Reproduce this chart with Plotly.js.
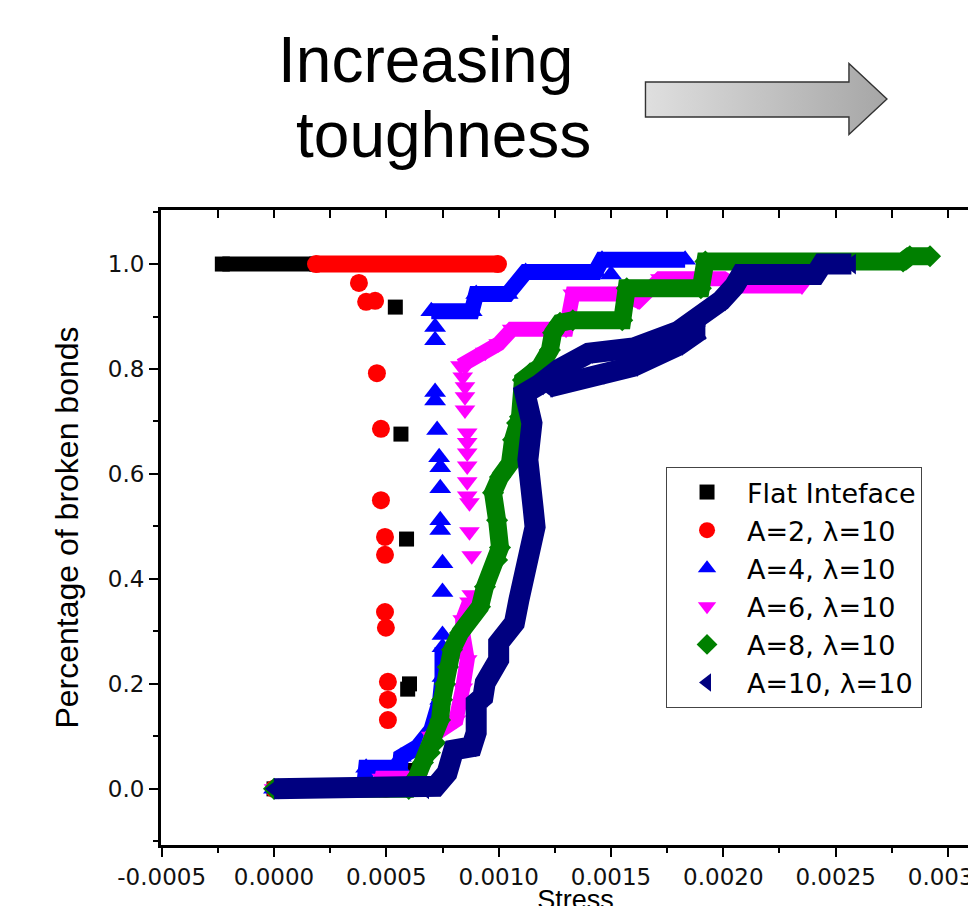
<!DOCTYPE html>
<html><head><meta charset="utf-8">
<script src="https://cdn.plot.ly/plotly-3.0.1.min.js"></script>
<style>
html,body{margin:0;padding:0;overflow:hidden;background:#fff;width:968px;height:906px}
#chart{width:990px;height:915px}
</style>
</head><body><div id="chart"></div>
<script>
// ---------------- data ----------------
const seriesNames = ['Flat Inteface', 'A=2, \u03bb=10', 'A=4, \u03bb=10', 'A=6, \u03bb=10', 'A=8, \u03bb=10', 'A=10, \u03bb=10'];

// dense runs of points (drawn as continuous bands), null = break
const flatRunX = [-0.00023, 0.00019, null, 0, 0.0006];
const flatRunY = [1, 1, null, 0, 0];
// isolated points
const flatDotX = [0.00054, 0.000565, 0.00059, 0.000595, 0.000603, 0.00062];
const flatDotY = [0.918, 0.676, 0.476, 0.19, 0.2, 0.035];

const a2RunX = [0.000187, 0.000997, null, 0, 0.0005];
const a2RunY = [1, 1, null, 0, 0];
const a2DotX = [0.000378, 0.00041, 0.00045, 0.000458, 0.000476, 0.000476, 0.000494, 0.000494, 0.000494, 0.000498, 0.000507, 0.000507, 0.000507];
const a2DotY = [0.964, 0.928, 0.93, 0.792, 0.686, 0.55, 0.48, 0.446, 0.337, 0.307, 0.204, 0.17, 0.131];

const a4RunX = [0, 0.0004, 0.00041, 0.00056, 0.000565, 0.00064, 0.0007, 0.00074, 0.00075, 0.00075, null, 0.0007, 0.00088, 0.0009, 0.00104, 0.00112, 0.00143, 0.00146, 0.00183];
const a4RunY = [0, 0, 0.04, 0.04, 0.061, 0.08, 0.112, 0.17, 0.213, 0.27, null, 0.91, 0.91, 0.943, 0.943, 0.985, 0.985, 1.008, 1.008];
const a4DotX = [0.00075, 0.00075, 0.00075, 0.00074, 0.00074, 0.00074, 0.00074, 0.000735, 0.000726, 0.000717, 0.000717, 0.000717, 0.000717, 0.0015];
const a4DotY = [0.293, 0.375, 0.43, 0.493, 0.512, 0.573, 0.613, 0.632, 0.684, 0.74, 0.756, 0.855, 0.88, 0.98];

const a6RunX = [0, 0.00047, 0.00048, 0.00064, 0.0007, 0.00081, 0.00084, 0.00086, 0.00084, 0.00084, 0.00087, null, 0.00083, 0.00094, 0.001, 0.00106, 0.0013, 0.00133, 0.00155, 0.00162, 0.00172, 0.002, 0.00205, 0.00235];
const a6RunY = [0, 0, 0.02, 0.02, 0.1, 0.131, 0.192, 0.246, 0.297, 0.322, 0.356, null, 0.806, 0.832, 0.848, 0.876, 0.876, 0.943, 0.943, 0.93, 0.972, 0.972, 0.958, 0.958];
const a6DotX = [0.00088, 0.00088, 0.00087, 0.00087, 0.00086, 0.00086, 0.00086, 0.00086, 0.00086, 0.00086, 0.00085, 0.00085, 0.00085, 0.00084, 0.00085];
const a6DotY = [0.37, 0.444, 0.49, 0.545, 0.558, 0.585, 0.615, 0.64, 0.66, 0.678, 0.722, 0.747, 0.766, 0.785, 0.804];

const a8RunX = [0, 0.0006, 0.000636, 0.000663, 0.000694, 0.000717, 0.000739, 0.000748, 0.000761, 0.000774, 0.000792, 0.000828, 0.000872, 0.000917, 0.000939, 0.000993, 0.001006, 0.000993, 0.000975, 0.001006, 0.00105, 0.001064, 0.001082, 0.001095, 0.001108, 0.00114, 0.001184, 0.001228, 0.001242, 0.001273, 0.00133, 0.00155, 0.00157, 0.0019, 0.00192, 0.0028, 0.00283, 0.00292];
const a8RunY = [0, 0, 0.023, 0.05, 0.069, 0.088, 0.131, 0.17, 0.2, 0.232, 0.265, 0.297, 0.322, 0.347, 0.385, 0.436, 0.46, 0.512, 0.564, 0.594, 0.62, 0.665, 0.697, 0.709, 0.779, 0.792, 0.804, 0.836, 0.869, 0.888, 0.893, 0.893, 0.954, 0.954, 1.005, 1.005, 1.015, 1.015];
const a8DotX = [];
const a8DotY = [];

const a10RunX = [0, 0.00067, 0.00072, 0.00077, 0.0008, 0.00088, 0.0009, 0.0009, 0.00093, 0.00094, 0.00097, 0.001, 0.001, 0.00102, 0.00104, 0.00107, 0.00109, 0.001108, 0.00113, 0.001148, 0.001162, 0.001153, 0.001148, 0.00113, 0.001148, 0.001117, 0.00118, 0.00127, 0.0014, 0.0016, 0.0018, 0.0019, 0.00199, 0.00205, 0.00208, 0.00241, 0.00244, 0.00257, null, 0.00122, 0.00145, 0.0016, 0.0018, 0.0019];
const a10RunY = [0, 0, 0.005, 0.03, 0.074, 0.08, 0.107, 0.164, 0.175, 0.202, 0.223, 0.246, 0.278, 0.29, 0.3, 0.316, 0.36, 0.398, 0.423, 0.461, 0.499, 0.537, 0.575, 0.627, 0.697, 0.754, 0.77, 0.8, 0.83, 0.84, 0.872, 0.9, 0.93, 0.958, 0.98, 0.98, 1.0, 1.0, null, 0.765, 0.79, 0.805, 0.845, 0.875];
const a10DotX = [];
const a10DotY = [];

const xTickLabels = ['-0.0005', '0.0000', '0.0005', '0.0010', '0.0015', '0.0020', '0.0025', '0.0030'];
const xTickVals = [-0.0005, 0, 0.0005, 0.001, 0.0015, 0.002, 0.0025, 0.003];
const yTickLabels = ['0.0', '0.2', '0.4', '0.6', '0.8', '1.0'];
const yTickVals = [0, 0.2, 0.4, 0.6, 0.8, 1.0];

// ---------------- styles ----------------
const colors = ['#000000', '#ff0000', '#0000ff', '#ff00ff', '#008000', '#000080'];
const symbols = ['square', 'circle', 'triangle-up', 'triangle-down', 'diamond', 'triangle-left'];
const sizes = [15, 18, 19, 18, 17, 18];
const bandWidths = [15, 17, 16, 15, 18, 21];

const runsX = [flatRunX, a2RunX, a4RunX, a6RunX, a8RunX, a10RunX];
const runsY = [flatRunY, a2RunY, a4RunY, a6RunY, a8RunY, a10RunY];
const dotsX = [flatDotX, a2DotX, a4DotX, a6DotX, a8DotX, a10DotX];
const dotsY = [flatDotY, a2DotY, a4DotY, a6DotY, a8DotY, a10DotY];

const traces = [];
for (let i = 0; i < seriesNames.length; i++) {
  traces.push({
    type: 'scatter', mode: 'lines', x: runsX[i], y: runsY[i],
    line: {color: colors[i], width: bandWidths[i]},
    connectgaps: false, showlegend: false, hoverinfo: 'skip', legendgroup: 'g' + i
  });
  traces.push({
    type: 'scatter', mode: 'markers', name: seriesNames[i],
    x: runsX[i].concat(dotsX[i]), y: runsY[i].concat(dotsY[i]),
    marker: {color: colors[i], symbol: symbols[i], size: sizes[i], line: {width: 0}},
    legendgroup: 'g' + i
  });
}
// empty trace carrying the top (mirror) axis with inward ticks
traces.push({type: 'scatter', mode: 'markers', x: [null], y: [null], xaxis: 'x2', yaxis: 'y', showlegend: false, hoverinfo: 'skip'});

const xRange = [-0.000503, 0.003187];
const yRange = [-0.107, 1.103];

const arrowSvg = "<svg xmlns='http://www.w3.org/2000/svg' width='245' height='74' viewBox='0 0 245 74'>" +
  "<defs><linearGradient id='g' x1='0' x2='1' y1='0' y2='0'><stop offset='0' stop-color='#dfdfdf'/><stop offset='1' stop-color='#a6a6a6'/></linearGradient></defs>" +
  "<path d='M1.5,20 H205 V1.5 L243,37 L205,72.5 V55 H1.5 Z' fill='url(#g)' stroke='#333' stroke-width='1.4'/></svg>";

const tickFont = {family: 'DejaVu Sans', size: 23, color: '#111'};

const layout = {
  width: 990, height: 915,
  margin: {l: 161, r: 0, t: 210, b: 70, pad: 0},
  paper_bgcolor: '#fff', plot_bgcolor: '#fff',
  showlegend: true,
  legend: {
    x: 0.6092, y: 0.5953, xanchor: 'left', yanchor: 'top',
    bgcolor: '#fff', bordercolor: '#444', borderwidth: 1,
    font: {family: 'DejaVu Sans', size: 27, color: '#000'},
    itemwidth: 70, tracegroupgap: 0, traceorder: 'normal'
  },
  xaxis: {
    range: xRange, tickvals: xTickVals, ticktext: xTickLabels,
    ticks: 'outside', ticklen: 9, tickwidth: 2, tickcolor: '#000',
    minor: {dtick: 0.00025, tick0: 0, ticks: 'outside', ticklen: 5, tickwidth: 2, tickcolor: '#000', showgrid: false},
    showline: true, linewidth: 3, linecolor: '#000', mirror: false,
    showgrid: false, zeroline: false, tickfont: tickFont,
    title: {text: 'Stress', font: {family: 'Liberation Sans', size: 27, color: '#000'}, standoff: 20}
  },
  xaxis2: {
    range: xRange, overlaying: 'x', side: 'top', anchor: 'y',
    tick0: 0, dtick: 0.00025, ticks: 'inside', ticklen: 8, tickwidth: 2, tickcolor: '#000',
    showticklabels: false, showline: true, linewidth: 3, linecolor: '#000',
    showgrid: false, zeroline: false
  },
  yaxis: {
    range: yRange, tickvals: yTickVals, ticktext: yTickLabels,
    ticks: 'outside', ticklen: 9, tickwidth: 2, tickcolor: '#000',
    minor: {dtick: 0.1, tick0: 0, ticks: 'outside', ticklen: 5, tickwidth: 2, tickcolor: '#000', showgrid: false},
    showline: true, linewidth: 3, linecolor: '#000', mirror: false,
    showgrid: false, zeroline: false, tickfont: tickFont,
    title: {text: 'Percentage of broken bonds', font: {family: 'Liberation Sans', size: 32, color: '#000'}, standoff: 20}
  },
  annotations: [
    {text: 'Increasing', xref: 'paper', yref: 'paper', x: 0.3191, y: 1.236, xanchor: 'center', yanchor: 'middle', showarrow: false,
     font: {family: 'Liberation Sans', size: 64, color: '#000'}},
    {text: 'toughness', xref: 'paper', yref: 'paper', x: 0.3402, y: 1.118, xanchor: 'center', yanchor: 'middle', showarrow: false,
     font: {family: 'Liberation Sans', size: 64, color: '#000'}}
  ],
  images: [{
    source: 'data:image/svg+xml;charset=utf-8,' + encodeURIComponent(arrowSvg),
    xref: 'paper', yref: 'paper', x: 0.5826, y: 1.2331, sizex: 0.2955, sizey: 0.1165,
    xanchor: 'left', yanchor: 'top', sizing: 'stretch', layer: 'above'
  }]
};

Plotly.newPlot('chart', traces, layout, {displayModeBar: false, staticPlot: true});
</script>
</body></html>
